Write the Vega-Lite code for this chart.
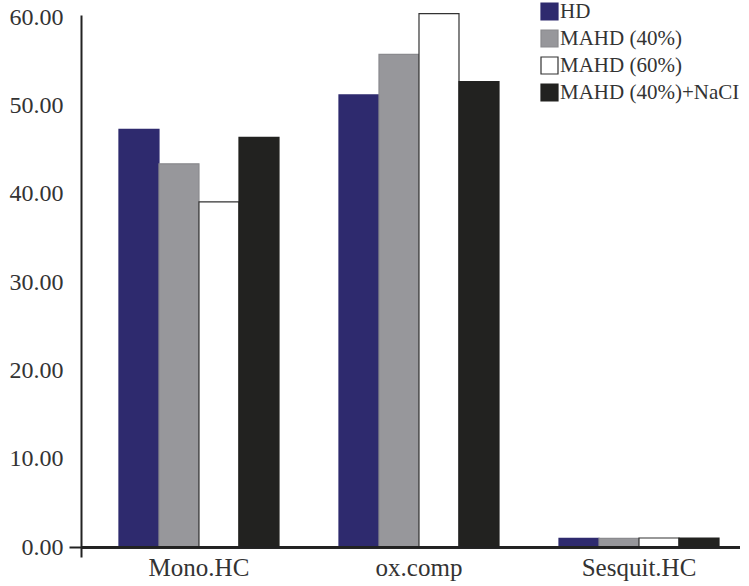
{
  "$schema": "https://vega.github.io/schema/vega-lite/v6.json",
  "width": 659,
  "height": 542,
  "autosize": {"type": "none"},
  "padding": {"left": 81, "top": 15, "right": 9, "bottom": 29},
  "background": "white",
  "config": {
    "view": {"stroke": null},
    "font": "Liberation Serif"
  },
  "data": {
    "values": [
      {"cat": "Mono.HC", "group": "HD", "value": 47.3},
      {"cat": "Mono.HC", "group": "MAHD (40%)", "value": 43.4},
      {"cat": "Mono.HC", "group": "MAHD (60%)", "value": 39.1},
      {"cat": "Mono.HC", "group": "MAHD (40%)+NaCI", "value": 46.4},
      {"cat": "ox.comp", "group": "HD", "value": 51.2},
      {"cat": "ox.comp", "group": "MAHD (40%)", "value": 55.8},
      {"cat": "ox.comp", "group": "MAHD (60%)", "value": 60.4},
      {"cat": "ox.comp", "group": "MAHD (40%)+NaCI", "value": 52.7},
      {"cat": "Sesquit.HC", "group": "HD", "value": 1.0},
      {"cat": "Sesquit.HC", "group": "MAHD (40%)", "value": 1.0},
      {"cat": "Sesquit.HC", "group": "MAHD (60%)", "value": 1.05},
      {"cat": "Sesquit.HC", "group": "MAHD (40%)+NaCI", "value": 1.05}
    ]
  },
  "layer": [
    {
      "mark": {"type": "bar", "strokeWidth": 1.2},
      "encoding": {
        "x": {
          "field": "cat",
          "type": "nominal",
          "sort": null,
          "scale": {"paddingInner": 0.2727, "paddingOuter": 0.134, "align": 0.644},
          "axis": {
            "title": null,
            "domain": false,
            "ticks": false,
            "labelAngle": 0,
            "labelFontSize": 25,
            "labelColor": "#333333",
            "labelPadding": -2,
            "labelFont": "Liberation Serif"
          }
        },
        "xOffset": {
          "field": "group",
          "type": "nominal",
          "sort": ["HD", "MAHD (40%)", "MAHD (60%)", "MAHD (40%)+NaCI"],
          "scale": {"paddingInner": 0, "paddingOuter": 0}
        },
        "y": {
          "field": "value",
          "type": "quantitative",
          "scale": {"domain": [-1.1, 60.25], "nice": false, "zero": false},
          "axis": {
            "title": null,
            "values": [0, 10, 20, 30, 40, 50, 60],
            "format": ".2f",
            "grid": false,
            "domainColor": "#222222",
            "domainWidth": 2,
            "tickSize": 12,
            "tickWidth": 2,
            "tickColor": {"condition": {"test": "datum.value == 0", "value": "#222222"}, "value": "transparent"},
            "labelFontSize": 24,
            "labelColor": "#333333",
            "labelPadding": 6,
            "labelFont": "Liberation Serif"
          }
        },
        "y2": {"datum": 0},
        "fill": {
          "field": "group",
          "type": "nominal",
          "scale": {
            "domain": ["HD", "MAHD (40%)", "MAHD (60%)", "MAHD (40%)+NaCI"],
            "range": ["#2e2a6e", "#97979b", "#ffffff", "#222220"]
          },
          "legend": {
            "title": null,
            "orient": "none",
            "legendX": 458,
            "legendY": -14,
            "symbolType": "square",
            "symbolSize": 289,
            "symbolStrokeWidth": 1.2,
            "labelFontSize": 21,
            "labelFont": "Liberation Serif",
            "labelColor": "#333333",
            "labelOffset": 0,
            "labelLimit": 300,
            "rowPadding": 4
          }
        },
        "stroke": {
          "field": "group",
          "type": "nominal",
          "scale": {
            "domain": ["HD", "MAHD (40%)", "MAHD (60%)", "MAHD (40%)+NaCI"],
            "range": ["#2e2a6e", "#8a8a8e", "#333333", "#222220"]
          },
          "legend": {
            "title": null,
            "orient": "none",
            "legendX": 458,
            "legendY": -14,
            "symbolType": "square",
            "symbolSize": 289,
            "symbolStrokeWidth": 1.2,
            "labelFontSize": 21,
            "labelFont": "Liberation Serif",
            "labelColor": "#333333",
            "labelOffset": 0,
            "labelLimit": 300,
            "rowPadding": 4
          }
        }
      }
    },
    {
      "mark": {"type": "rule", "color": "#222222", "strokeWidth": 2},
      "encoding": {
        "y": {"datum": 0}
      }
    }
  ]
}
